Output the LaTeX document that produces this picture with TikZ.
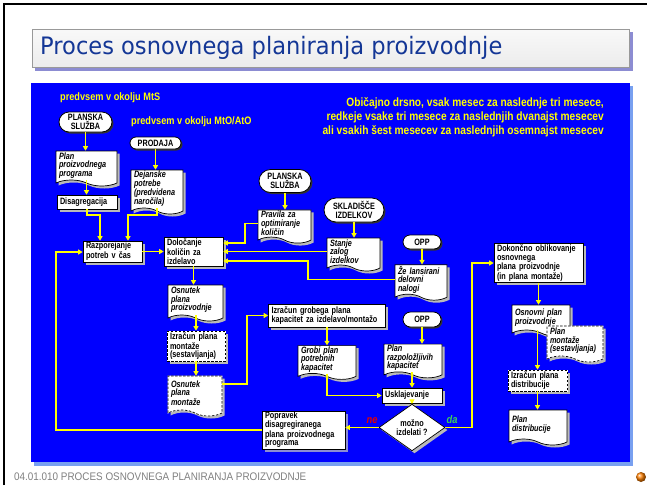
\documentclass[tikz,border=0pt]{standalone}
\usepackage{fontspec}
\setmainfont{Liberation Sans}
\newfontfamily\nf[FakeStretch=0.79]{Liberation Sans}
\newfontfamily\hf[FakeStretch=0.85]{Liberation Sans}
\newfontfamily\tf[FakeStretch=0.94]{DejaVu Sans}
\newfontfamily\ff[FakeStretch=0.9]{Liberation Sans}
\usetikzlibrary{shapes.geometric,shapes.misc,shapes.symbols,shadows,arrows.meta,calc}
\definecolor{panelblue}{RGB}{0,0,255}
\definecolor{ylw}{RGB}{255,255,0}
\definecolor{titleblue}{RGB}{20,55,150}
\definecolor{lightpanel}{RGB}{120,160,240}
\definecolor{lav}{RGB}{140,140,210}
\definecolor{shgray}{RGB}{185,185,185}
\definecolor{nered}{RGB}{230,0,0}
\definecolor{dagreen}{RGB}{60,210,90}
\tikzset{
  txt/.style={font=\nf\bfseries\fontsize{9.2}{8.6}\selectfont, text=black, execute at begin node={\hyphenpenalty=10000\exhyphenpenalty=10000}},
  itx/.style={font=\nf\bfseries\itshape\fontsize{9.2}{8.6}\selectfont, text=black, execute at begin node={\hyphenpenalty=10000\exhyphenpenalty=10000}},
  sz/.style n args={3}{minimum width=#1pt, minimum height=#2pt, text width=#3pt},
  gshadow/.style={drop shadow={shadow xshift=2.5pt, shadow yshift=-2.5pt, fill=shgray, opacity=1}},
  lshadow/.style={drop shadow={shadow xshift=3pt, shadow yshift=-3pt, fill=lav, opacity=1}},
  boxbase/.style={txt, rectangle, draw=black, line width=0.7pt, fill=white, inner xsep=3pt, inner ysep=1pt, align=left},
  boxs/.style={boxbase, gshadow},
  dboxs/.style={boxs, dash pattern=on 2.5pt off 1.5pt, preaction={draw=white, solid, line width=0.7pt}},
  docs/.style={itx, tape, tape bend top=none, tape bend bottom=out and in, tape bend height=6pt, draw=black, line width=0.7pt, fill=white, inner xsep=3pt, inner ysep=1pt, align=left, gshadow},
  ddocs/.style={docs, dash pattern=on 2.5pt off 1.5pt, preaction={draw=white, solid, line width=0.7pt}},
  term/.style={txt, rounded rectangle, draw=black, line width=0.8pt, fill=white, align=center, inner sep=1pt, drop shadow={shadow xshift=1.5pt, shadow yshift=-1.5pt, fill=black!80, opacity=1}},
  decide/.style={txt, diamond, draw=black, line width=0.7pt, fill=white, align=center, inner sep=0pt, gshadow},
  arr/.style={draw=ylw, line width=1.5pt, -{Triangle[length=4.5pt,width=5pt]}},
  hdr/.style={font=\hf\bfseries\fontsize{10.8}{12}\selectfont, text=ylw, inner sep=0pt},
}
\begin{document}
\begin{tikzpicture}[x=1pt,y=-1pt]
\useasboundingbox (0,0) rectangle (647,485);
\fill[white] (0,0) rectangle (647,485);
% slide frame
\draw[black, line width=2pt] (4,485) -- (4,4) -- (647,4);
% title
\fill[lav] (35,32) rectangle (633,71);
\shade[top color=white!95!gray, bottom color=white!85!gray] (32,29) rectangle (629,67);
\draw[gray!80, line width=0.6pt] (32,29) rectangle (629,67);
\node[anchor=west, font=\tf\fontsize{24}{24}\selectfont, text=titleblue, inner sep=0pt] (title) at (40,48) {Proces osnovnega planiranja proizvodnje};
% blue panel
\fill[lightpanel] (34,86) rectangle (633,466);
\fill[panelblue] (31,83) rectangle (630,462);
% footer
\node[anchor=west, font=\ff\fontsize{11}{11}\selectfont, text=gray, inner sep=0pt] (foot) at (14,477) {04.01.010 PROCES OSNOVNEGA PLANIRANJA PROIZVODNJE};
\shade[ball color=orange] (641,477) circle (5);

% headers
\node[hdr, anchor=west] (h1) at (60,98) {predvsem v okolju MtS};
\node[hdr, anchor=west] (h2) at (131,122) {predvsem v okolju MtO/AtO};
\node[hdr, anchor=north east, align=right, font=\hf\bfseries\fontsize{12}{14}\selectfont] (h3) at (604,97) {Običajno drsno, vsak mesec za naslednje tri mesece,\\redkeje vsake tri mesece za naslednjih dvanajst mesecev\\ali vsakih šest mesecev za naslednjih osemnajst mesecev};

% nodes
\node[term, minimum width=55pt, minimum height=20pt] (ps1) at (85.5,122) {PLANSKA\\SLUŽBA};
\node[docs, sz={61}{35}{55}] (plan1) at (86.5,165.5) {Plan\\proizvodnega\\programa};
\node[boxs, sz={60}{14}{54}] (disag) at (87,202) {Disagregacija};
\node[term, minimum width=53pt, minimum height=12pt] (prod) at (155.5,143) {PRODAJA};
\node[docs, sz={52}{44}{46}] (dej) at (157,189) {Dejanske\\potrebe\\(predvidena\\naročila)};
\node[boxs, sz={59}{21}{53}] (razpo) at (112.5,251.5) {Razporejanje\\potreb v čas};
\node[boxs, sz={59}{29}{53}] (dolo) at (193.5,251.5) {Določanje\\količin za\\izdelavo};
\node[term, minimum width=54pt, minimum height=23pt] (ps2) at (285,181) {PLANSKA\\SLUŽBA};
\node[docs, sz={53}{29}{47}] (prav) at (284.5,223.5) {Pravila za\\optimiranje\\količin};
\node[term, minimum width=62pt, minimum height=24pt] (skl) at (354,210) {SKLADIŠČE\\IZDELKOV};
\node[docs, sz={53}{33}{47}] (stanje) at (353.5,251.5) {Stanje\\zalog\\izdelkov};
\node[term, minimum width=40pt, minimum height=14pt] (opp1) at (422,242) {OPP};
\node[docs, sz={52}{33}{46}] (ze) at (421,279.5) {Že lansirani\\delovni\\nalogi};
\node[docs, sz={55}{36}{49}] (osn1) at (195.5,300) {Osnutek\\plana\\proizvodnje};
\node[dboxs, sz={58}{30}{52}] (izm) at (196,346) {Izračun plana\\montaže\\(sestavljanja)};
\node[ddocs, sz={54}{40}{48}] (osn2) at (195,393) {Osnutek\\plana\\montaže};
\node[boxs, sz={117}{23}{111}] (igp) at (327,315.5) {Izračun grobega plana\\kapacitet za izdelavo/montažo};
\node[term, minimum width=40pt, minimum height=15pt] (opp2) at (422,319.5) {OPP};
\node[docs, sz={58}{33}{52}] (grobi) at (327,359.5) {Grobi plan\\potrebnih\\kapacitet};
\node[docs, sz={58}{32}{52}] (razp) at (413,358) {Plan\\razpoložljivih\\kapacitet};
\node[boxs, sz={60}{15}{54}] (uskl) at (412,395.5) {Usklajevanje};
\node[decide, minimum width=66pt, minimum height=29pt] (dia) at (412,427.5) {možno\\izdelati ?};
\node[boxbase, lshadow, sz={83}{38}{77}] (pop) at (303.5,430) {Popravek\\disagregiranega\\plana proizvodnega\\programa};
\node[boxs, sz={89}{38}{83}] (dok) at (538.5,263) {Dokončno oblikovanje\\osnovnega\\plana proizvodnje\\(in plana montaže)};
\node[docs, sz={58}{31}{52}] (osnp) at (541,317.5) {Osnovni plan\\proizvodnje};
\node[ddocs, sz={56}{36}{50}] (pmont) at (575,341) {Plan\\montaže\\(sestavljanja)};
\node[dboxs, sz={59}{21}{53}] (idist) at (537.5,380.5) {Izračun plana\\distribucije};
\node[docs, sz={58}{35}{52}] (pdist) at (538,424.5) {Plan\\distribucije};

\node[font=\hf\bfseries\itshape\fontsize{11}{11}\selectfont, text=nered, inner sep=0pt] (ne) at (372,421) {ne};
\node[font=\hf\bfseries\itshape\fontsize{11}{11}\selectfont, text=dagreen, inner sep=0pt] (da) at (452,420) {da};

% junctions
\coordinate (j1) at (100,215);
\coordinate (j2) at (128,215);
\coordinate (j3) at (245,243);
\coordinate (j4) at (308,261);
\coordinate (j5) at (247,384);
\coordinate (j6) at (472,263);
\coordinate (j7) at (56,252);

% connectors
\draw[arr] (ps1.south) -- (ps1.south |- plan1.north);
\draw[arr] (plan1.south) -- (plan1.south |- disag.north);
\draw[arr] (disag.south) |- (j1) -- (j1 |- razpo.north);
\draw[arr] (prod.south) -- (prod.south |- dej.north);
\draw[arr] (dej.south) |- (j2) -- (j2 |- razpo.north);
\draw[arr] (razpo.east) -- (razpo.east -| dolo.west);
\draw[arr] (ps2.south) -- (ps2.south |- prav.north);
\draw[arr] (prav.west) -| (j3) -- (j3 -| dolo.east);
\draw[arr] (skl.south) -- (skl.south |- stanje.north);
\draw[arr] (stanje.west) -- (stanje.west -| dolo.east);
\draw[arr] (opp1.south) -- (opp1.south |- ze.north);
\draw[arr] (ze.west) -| (j4) -- (j4 -| dolo.east);
\draw[arr] (dolo.south) -- (dolo.south |- osn1.north);
\draw[arr] (izm.north |- osn1.south) -- (izm.north);
\draw[arr] (izm.south) -- (izm.south |- osn2.north);
\draw[arr] (j5 -| osn2.east) -- (j5) |- (igp.west);
\draw[arr] (grobi.north |- igp.south) -- (grobi.north);
\draw[arr] (opp2.south) -- (opp2.south |- razp.north);
\draw[arr] (grobi.south) |- (uskl.west);
\draw[arr] (uskl.north |- razp.south) -- (uskl.north);
\draw[arr] (uskl.south) -- (dia.north);
\draw[arr] (dia.west) -- (dia.west -| pop.east);
\draw[arr] (dia.east) -| (j6) -- (j6 -| dok.west);
\draw[arr] (pop.west) -| (j7) -- (j7 -| razpo.west);
\draw[arr] (dok.south) -- (dok.south |- osnp.north);
\draw[arr] (idist.north |- osnp.south) -- (idist.north);
\draw[arr] (idist.south) -- (idist.south |- pdist.north);
\end{tikzpicture}
\end{document}
